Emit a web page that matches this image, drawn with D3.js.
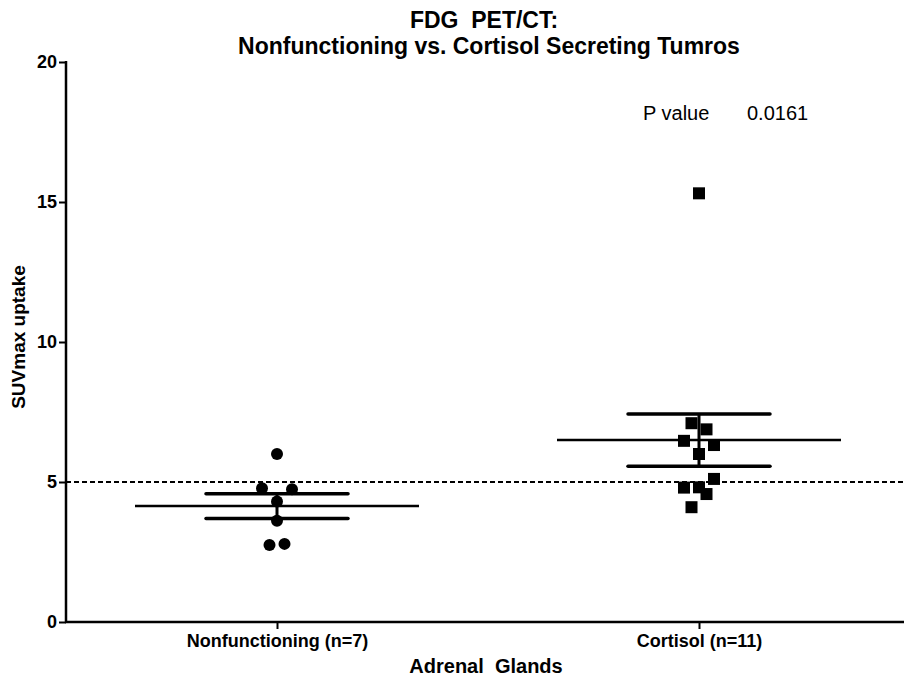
<!DOCTYPE html>
<html>
<head>
<meta charset="utf-8">
<script src="https://cdn.jsdelivr.net/npm/d3@7"></script>
<style>
   body { margin: 0; background: #fff; }
   svg text { font-family: "Liberation Sans", Arial, sans-serif; fill: #000; }
</style>
</head>
<body>
<div id="chart"></div>
<script>

// CATEGORIES & TICKS
var categories = ['Nonfunctioning (n=7)', 'Cortisol (n=11)'];
var yTicks = [0, 5, 10, 15, 20];

// SUVMAX VALUES PER GROUP
var nonfunctioning = [6.0, 4.78, 4.74, 4.30, 3.62, 2.75, 2.79];
var cortisol = [7.10, 6.88, 6.47, 6.32, 6.0, 5.11, 4.80, 4.81, 4.57, 4.10, 15.31];

// SCATTER COLUMN SLOTS (PRISM STYLE)
var nonfunctioningSlots = [0, -2, 2, 0, 0, -1, 1];
var cortisolSlots = [-1, 1, -2, 2, 0, 2, -2, 0, 1, -1, 0];

// THRESHOLD & STATS TEXT
var threshold = 5;
var pLabel = 'P value';
var pValue = '0.0161';

// SETTINGS
var settings = {
   width: 904,
   height: 681,
   margin: { left: 66, top: 62, bottom: 59 },
   slot: 7.5,
   meanHalf: 142,
   capHalf: 71,
   marker: 12
};

// MEAN & SEM
function stats(values) {
   var mean = d3.mean(values);
   var sem = d3.deviation(values) / Math.sqrt(values.length);
   return { mean: mean, sem: sem };
}

var groups = [
   { name: categories[0], values: nonfunctioning, slots: nonfunctioningSlots, shape: 'circle' },
   { name: categories[1], values: cortisol, slots: cortisolSlots, shape: 'square' }
];

// CANVAS
var svg = d3.select('#chart').append('svg')
   .attr('width', settings.width)
   .attr('height', settings.height);

var plotBottom = settings.height - settings.margin.bottom;

// SCALES
var yScale = d3.scaleLinear()
   .domain([0, 20])
   .range([plotBottom, settings.margin.top]);

var xScale = d3.scalePoint()
   .domain(categories)
   .range([settings.margin.left, 910])
   .padding(0.5);

// TITLE
svg.append('text')
   .attr('x', 484).attr('y', 28)
   .attr('text-anchor', 'middle')
   .attr('font-size', 23).attr('font-weight', 'bold')
   .attr('xml:space', 'preserve')
   .text('FDG  PET/CT:');

svg.append('text')
   .attr('x', 489).attr('y', 54)
   .attr('text-anchor', 'middle')
   .attr('font-size', 23).attr('font-weight', 'bold')
   .text('Nonfunctioning vs. Cortisol Secreting Tumros');

// THRESHOLD LINE
svg.append('line')
   .attr('x1', settings.margin.left).attr('x2', settings.width)
   .attr('y1', yScale(threshold)).attr('y2', yScale(threshold))
   .attr('stroke', '#000')
   .attr('stroke-width', 2)
   .attr('stroke-dasharray', '5,3');

// Y-AXIS
var yAxis = d3.axisLeft(yScale)
   .tickValues(yTicks)
   .tickSize(7)
   .tickPadding(2);

var gy = svg.append('g')
   .attr('transform', 'translate(' + settings.margin.left + ',0)')
   .call(yAxis);

gy.select('.domain').remove();
gy.selectAll('.tick line').attr('stroke', '#000').attr('stroke-width', 2);
gy.selectAll('.tick text').attr('font-size', 18).attr('font-weight', 'bold').attr('font-family', '"Liberation Sans", Arial, sans-serif');

svg.append('line')
   .attr('x1', settings.margin.left).attr('x2', settings.margin.left)
   .attr('y1', yScale(20) - 1).attr('y2', plotBottom + 1)
   .attr('stroke', '#000').attr('stroke-width', 2.5);

// X-AXIS
var xAxis = d3.axisBottom(xScale)
   .tickSize(7)
   .tickPadding(5);

var gx = svg.append('g')
   .attr('transform', 'translate(0,' + plotBottom + ')')
   .call(xAxis);

gx.select('.domain').remove();
gx.selectAll('.tick line').attr('stroke', '#000').attr('stroke-width', 2);
gx.selectAll('.tick text').attr('font-size', 18).attr('font-weight', 'bold').attr('font-family', '"Liberation Sans", Arial, sans-serif');

svg.append('line')
   .attr('x1', settings.margin.left - 1).attr('x2', settings.width)
   .attr('y1', plotBottom).attr('y2', plotBottom)
   .attr('stroke', '#000').attr('stroke-width', 2.5);

// AXIS TITLES
svg.append('text')
   .attr('x', 486).attr('y', 673)
   .attr('text-anchor', 'middle')
   .attr('font-size', 20).attr('font-weight', 'bold')
   .attr('xml:space', 'preserve')
   .text('Adrenal  Glands');

svg.append('text')
   .attr('transform', 'translate(25,337) rotate(-90)')
   .attr('text-anchor', 'middle')
   .attr('font-size', 19).attr('font-weight', 'bold')
   .text('SUVmax uptake');

// P VALUE
svg.append('text')
   .attr('x', 643).attr('y', 120)
   .attr('font-size', 20)
   .text(pLabel);

svg.append('text')
   .attr('x', 747).attr('y', 120)
   .attr('font-size', 20)
   .text(pValue);

// LOOP THROUGH GROUPS
groups.forEach(group => {

   var cx = xScale(group.name);
   var s = stats(group.values);

   // MEAN LINE
   svg.append('line')
      .attr('x1', cx - settings.meanHalf).attr('x2', cx + settings.meanHalf)
      .attr('y1', yScale(s.mean)).attr('y2', yScale(s.mean))
      .attr('stroke', '#000').attr('stroke-width', 2.5);

   // SEM BAR
   svg.append('line')
      .attr('x1', cx).attr('x2', cx)
      .attr('y1', yScale(s.mean + s.sem)).attr('y2', yScale(s.mean - s.sem))
      .attr('stroke', '#000').attr('stroke-width', 3);

   // CAPS
   var caps = [s.mean + s.sem, s.mean - s.sem];
   caps.forEach(v => {
      svg.append('line')
         .attr('x1', cx - settings.capHalf).attr('x2', cx + settings.capHalf)
         .attr('y1', yScale(v)).attr('y2', yScale(v))
         .attr('stroke', '#000').attr('stroke-width', 3.5)
         .attr('stroke-linecap', 'round');
   });

   // POINTS
   var pts = group.values.map((v, i) => ({ v: v, x: cx + group.slots[i] * settings.slot }));

   if (group.shape == 'circle') {
      svg.selectAll('circle.pt-nf')
         .data(pts)
            .enter().append('circle')
               .attr('class', 'pt-nf')
               .attr('cx', d => d.x)
               .attr('cy', d => yScale(d.v))
               .attr('r', settings.marker / 2)
               .attr('fill', '#000');
   } else {
      svg.selectAll('rect.pt-co')
         .data(pts)
            .enter().append('rect')
               .attr('class', 'pt-co')
               .attr('x', d => d.x - settings.marker / 2)
               .attr('y', d => yScale(d.v) - settings.marker / 2)
               .attr('width', settings.marker)
               .attr('height', settings.marker)
               .attr('fill', '#000');
   }
});

</script>
</body>
</html>
